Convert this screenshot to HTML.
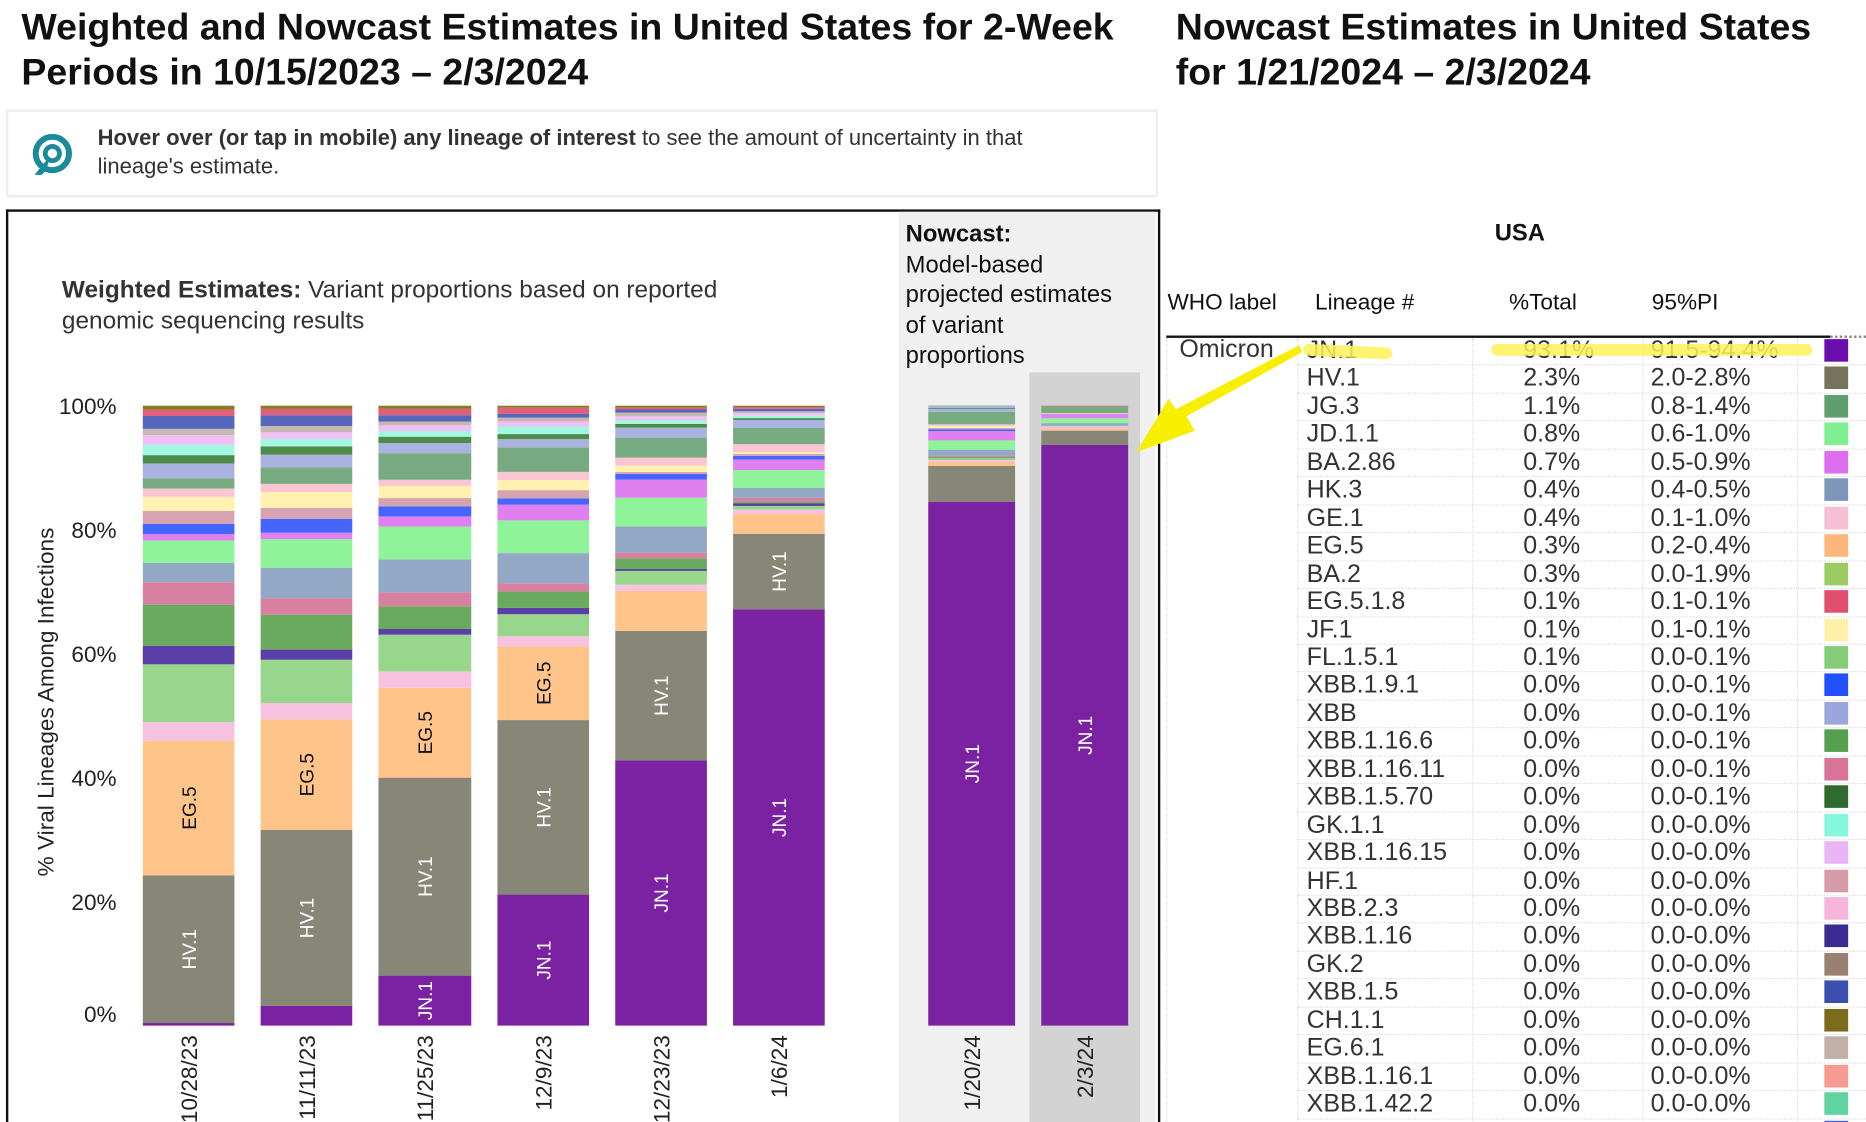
<!DOCTYPE html>
<html><head><meta charset="utf-8">
<style>
html,body{margin:0;padding:0;background:#fff;overflow:hidden}
body{width:1866px;height:1122px;position:relative}
#root{position:absolute;left:0;top:0;width:1568px;height:943px;transform:scale(1.19005,1.1898);transform-origin:0 0;font-family:"Liberation Sans",sans-serif;color:#222}
.abs{position:absolute}
h1{margin:0;font-size:31.5px;font-weight:bold;line-height:38px;color:#111;position:absolute;white-space:nowrap}
</style></head><body>
<div id="root">
<h1 style="left:18px;top:3px;">Weighted and Nowcast Estimates in United States for 2-Week<br>Periods in 10/15/2023 – 2/3/2024</h1>
<h1 style="left:988px;top:3px;">Nowcast Estimates in United States<br>for 1/21/2024 – 2/3/2024</h1>
<div class="abs" style="left:5px;top:92px;width:964px;height:70px;border:2px solid #eee;background:#fff;">
 <svg class="abs" style="left:18px;top:17px" width="36" height="40" viewBox="0 0 36 40"><circle cx="19" cy="18" r="14" fill="none" stroke="#1b8a9a" stroke-width="5"/><circle cx="19" cy="18" r="6" fill="none" stroke="#1b8a9a" stroke-width="4"/><path d="M17 20 L4 36 L10 36 L14 32 Z" fill="#1b8a9a"/></svg>
 <div class="abs" style="left:75px;top:10px;font-size:18.5px;line-height:24px;color:#333;width:835px"><b>Hover over (or tap in mobile) any lineage of interest</b> to see the amount of uncertainty in that lineage's estimate.</div>
</div>
<div class="abs" style="left:5px;top:176px;width:966px;height:780px;border:2px solid #111;border-bottom:none;"></div>
<div class="abs" style="left:755px;top:178px;width:216px;height:770px;background:#f0f0f0;"></div>
<div class="abs" style="left:865px;top:313px;width:93px;height:640px;background:#d3d3d3;"></div>
<div class="abs" style="left:761px;top:185px;font-size:20px;line-height:25.5px;color:#111"><b>Nowcast:</b><br>Model-based<br>projected estimates<br>of variant<br>proportions</div>
<div class="abs" style="left:52px;top:231px;font-size:20.5px;line-height:25.5px;color:#333"><b>Weighted Estimates:</b> Variant proportions based on reported<br>genomic sequencing results</div>
<svg id="chart" class="abs" style="left:0;top:0" width="980" height="943"></svg>
<div class="abs" style="left:1256px;top:185px;font-size:20px;font-weight:bold;color:#111">USA</div>
<div id="table" class="abs" style="left:0;top:0;width:1568px;height:943px"></div>
<svg class="abs" style="left:0;top:0;pointer-events:none" width="1568" height="943">
 <path d="M1100 294 L1165 297" stroke="#fff35a" stroke-width="10" stroke-linecap="round" opacity="0.85"/>
 <path d="M1258 294 L1518 294" stroke="#fff35a" stroke-width="10" stroke-linecap="round" opacity="0.85"/>
 <path d="M1092 290 L1094 296 L997 350 L1004 362 L955 380 L982 335 L988 344 Z" fill="#f7ee00"/>
</svg>
</div>
<script>
const lineages=["JN.1","HV.1","EG.5","GE.1","FL.1.5.1","XBB.1.16","XBB.1.16.6","HF.1","HK.3","JD.1.1","BA.2.86","XBB.1.9.1","XBB.1.16.11","JF.1","XBB.2.3","JG.3","XBB","XBB.1.5.70","GK.1.1","XBB.1.16.15","EG.6.1","XBB.1.5","EG.5.1.8","CH.1.1"];
const colors=["#7b22a3","#888676","#fec48a","#f6c2e0","#98d68c","#5a3fa8","#6aaa5f","#d8809f","#93a8c4","#8ff39a","#e07ff0","#4466ff","#d6a3b0","#fff1b0","#fbc6d4","#78aa82","#aab3e0","#4e8a48","#a0f7e2","#f0c0f5","#c6b8b0","#5566bb","#e0607a","#8a7a1f"];
const dates=["10/28/23","11/11/23","11/25/23","12/9/23","12/23/23","1/6/24","1/20/24","2/3/24"];
const v0=[0.4,23.0,21.0,2.9,9.0,2.9,6.4,3.5,3.0,3.5,1.0,1.6,2.0,2.2,1.3,1.6,2.3,1.3,1.6,1.5,1.0,2.0,1.0,0.6];
const v1=[3.1,27.7,17.4,2.6,6.8,1.6,5.5,2.6,4.8,4.5,1.0,2.2,1.7,2.5,1.3,2.6,2.0,1.3,1.2,1.0,1.0,1.7,1.0,0.5];
const v2=[7.9,31.3,14.2,2.6,5.8,0.9,3.6,2.2,5.2,5.2,1.6,1.6,1.3,1.9,1.0,4.2,1.6,1.0,0.9,0.9,0.6,1.0,1.0,0.5];
const v3=[20.8,27.7,11.7,1.6,3.5,1.0,2.6,1.3,4.8,5.2,2.5,1.0,1.3,1.6,1.3,3.9,1.3,0.8,1.2,0.8,0.6,0.6,1.0,0.3];
const v4=[42.4,20.7,6.4,1.0,2.2,0.3,1.7,0.9,4.2,4.6,2.9,0.9,0.3,1.0,1.3,3.2,1.6,0.6,0.6,0.6,0.6,0.5,0.3,0.3];
const v5=[67.3,12.2,3.2,0.7,0.6,0.4,0.3,0.6,1.6,2.9,1.7,0.6,0.3,0.3,1.3,2.6,1.3,0.3,0.4,0.4,0.3,0.4,0.3,0.2];
const v6=[84.6,5.8,0.6,0.3,0.3,0.0,0.2,0.2,1.0,1.5,1.5,0.3,0.2,0.3,0.3,2.0,0.5,0.2,0.1,0.1,0.0,0.1,0.0,0.0];
const v7=[93.1,2.3,0.3,0.4,0.1,0.0,0.0,0.0,0.4,0.8,0.7,0.0,0.0,0.1,0.0,1.1,0.0,0.0,0.0,0.0,0.0,0.0,0.1,0.0];
const barValues=[v0,v1,v2,v3,v4,v5,v6,v7];
const yTicks=[0,20,40,60,80,100];
const labelSet=["JN.1","HV.1","EG.5"];

const NS="http://www.w3.org/2000/svg";
const svg=document.getElementById('chart');
function el(t,a,p){const e=document.createElementNS(NS,t);for(const k in a)e.setAttribute(k,a[k]);(p||svg).appendChild(e);return e;}
const y0=862,y1=341;
function yScale(v){return y0-(v/100)*(y0-y1);}
const bx=[120,219,318,418,517,616,780,875];
const bw=[77,77,78,77,77,77,73,73];
function xPos(i){return bx[i];}
yTicks.forEach(t=>{
 const tx=el('text',{x:98,y:yScale(t)+7-(t===0?10:0),'text-anchor':'end','font-size':19,fill:'#222','font-family':'Liberation Sans, sans-serif'});
 
 
 tx.textContent=t+'%';
});
const yt=el('text',{x:0,y:0,transform:'translate(45,590) rotate(-90)','text-anchor':'middle','font-size':19,fill:'#222','font-family':'Liberation Sans, sans-serif'});


yt.textContent='% Viral Lineages Among Infections';
barValues.forEach((vals,i)=>{
 let cum=0;const x=xPos(i),w=bw[i];
 const total=vals.reduce((a,b)=>a+b,0);
 vals.forEach((v,j)=>{
  const a=cum/total*100,b=(cum+v)/total*100;cum+=v;
  if(v<=0)return;
  const r=el('rect',{x:x,y:yScale(b),width:w,height:Math.max(0,yScale(a)-yScale(b)),fill:colors[j]});
  
  
  const h=yScale(a)-yScale(b);
  if(labelSet.includes(lineages[j]) && h>35){
   const cy=(yScale(a)+yScale(b))/2;
   const t=el('text',{x:0,y:0,transform:`translate(${x+w/2+6},${cy}) rotate(-90)`,'text-anchor':'middle','font-size':16,fill:lineages[j]==='EG.5'?'#111':'#fff','font-family':'Liberation Sans, sans-serif'});
   
   
   t.textContent=lineages[j];
  }
 });
 const dl=el('text',{x:0,y:0,transform:`translate(${x+w/2+7},870) rotate(-90)`,'text-anchor':'end','font-size':19,fill:'#222','font-family':'Liberation Sans, sans-serif'});
 
 
 dl.textContent=dates[i];
});
const rowNames=["JN.1","HV.1","JG.3","JD.1.1","BA.2.86","HK.3","GE.1","EG.5","BA.2","EG.5.1.8","JF.1","FL.1.5.1","XBB.1.9.1","XBB","XBB.1.16.6","XBB.1.16.11","XBB.1.5.70","GK.1.1","XBB.1.16.15","HF.1","XBB.2.3","XBB.1.16","GK.2","XBB.1.5","CH.1.1","EG.6.1","XBB.1.16.1","XBB.1.42.2","XBB.1.9.2"];
const rowPct=["93.1%","2.3%","1.1%","0.8%","0.7%","0.4%","0.4%","0.3%","0.3%","0.1%","0.1%","0.1%","0.0%","0.0%","0.0%","0.0%","0.0%","0.0%","0.0%","0.0%","0.0%","0.0%","0.0%","0.0%","0.0%","0.0%","0.0%","0.0%","0.0%"];
const rowPI=["91.5-94.4%","2.0-2.8%","0.8-1.4%","0.6-1.0%","0.5-0.9%","0.4-0.5%","0.1-1.0%","0.2-0.4%","0.0-1.9%","0.1-0.1%","0.1-0.1%","0.0-0.1%","0.0-0.1%","0.0-0.1%","0.0-0.1%","0.0-0.1%","0.0-0.1%","0.0-0.0%","0.0-0.0%","0.0-0.0%","0.0-0.0%","0.0-0.0%","0.0-0.0%","0.0-0.0%","0.0-0.0%","0.0-0.0%","0.0-0.0%","0.0-0.0%","0.0-0.0%"];
const rowColor=["#6a0dad","#77735f","#5f9e6e","#80ef91","#dc6ff0","#7e97b8","#f6bfd3","#fdb77a","#9bcc64","#e0506e","#fff0a8","#86cc78","#2050ff","#9aa6dc","#55a04f","#d97499","#2f6b2f","#87f7dc","#e9b5f7","#d79aa8","#f7b5dc","#3b2a8f","#9a8070","#3a4fb0","#7b6b1a","#c0b0a8","#f79a90","#5fd4a0","#4060ff"];
const tb=document.getElementById('table');
function div(style,text,name){const d=document.createElement('div');d.className='abs';d.style.cssText=style;if(text!=null)d.textContent=text;tb.appendChild(d);return d;}
const hs='font-size:19px;color:#111;top:244px;';
div(hs+'left:981px','WHO label','header-who-label');
div(hs+'left:1105px','Lineage #','header-lineage');
div(hs+'left:1268px','%Total','header-total');
div(hs+'left:1388px','95%PI','header-pi');
div('left:980px;top:282px;width:558px;height:0;border-top:2px solid #111','', 'header-rule');
div('left:1538px;top:282px;width:30px;height:0;border-top:2px dotted #888','', 'header-rule-dotted');
[980,1090,1237,1380,1510].forEach(x=>div(`left:${x}px;top:284px;width:0;height:670px;border-left:1px dotted #ddd`,'','column-divider'));
div('left:991px;top:282px;font-size:21px;color:#333','Omicron','who-label-omicron');
const rt=283,rh=23.45;
rowNames.forEach((n,i)=>{
 const t=rt+i*rh;
 const fs='font-size:21px;color:#333;line-height:23px;top:'+(t)+'px;';
 div(fs+'left:1098px',n,'row-lineage');
 div(fs+'left:1280px',rowPct[i],'row-total');
 div(fs+'left:1387px',rowPI[i],'row-pi');
 div(`left:1533px;top:${t+2}px;width:20px;height:19px;background:${rowColor[i]}`,'','row-swatch');
 div(`left:1090px;top:${t+rh}px;width:478px;height:0;border-top:1px dotted #ddd`,'','row-divider');
});
</script>
</body></html>
